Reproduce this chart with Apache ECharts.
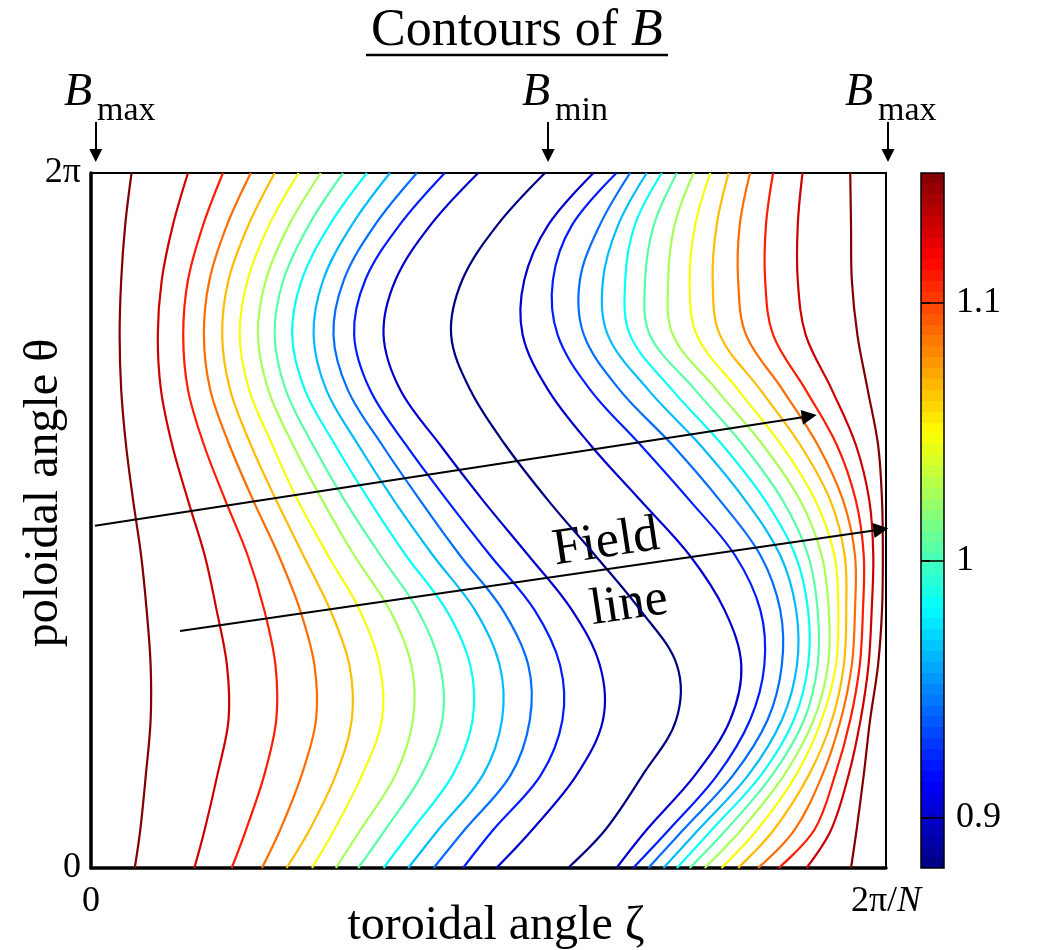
<!DOCTYPE html>
<html>
<head>
<meta charset="utf-8">
<script src="https://cdn.jsdelivr.net/npm/echarts@6/dist/echarts.min.js"></script>
<style>
  html, body { margin: 0; padding: 0; background: #fff; }
  #chart { width: 1041px; height: 950px; }
</style>
</head>
<body>
<div id="chart"></div>
<script>
// poloidal angle rows, theta / 2pi, top to bottom
const thetaRows = [1.000, 0.925, 0.846, 0.767, 0.688, 0.609, 0.529, 0.450, 0.371, 0.292, 0.213, 0.134, 0.055, 0.000];

// toroidal angle zeta / (2pi/N) where each contour crosses those rows, contours left to right
const contourZeta = [
  [0.051, 0.043, 0.038, 0.036, 0.038, 0.044, 0.053, 0.063, 0.070, 0.075, 0.075, 0.069, 0.062, 0.055],
  [0.122, 0.103, 0.089, 0.084, 0.088, 0.102, 0.122, 0.143, 0.158, 0.171, 0.173, 0.159, 0.143, 0.130],
  [0.166, 0.141, 0.122, 0.116, 0.122, 0.142, 0.169, 0.197, 0.218, 0.232, 0.233, 0.218, 0.195, 0.177],
  [0.201, 0.171, 0.149, 0.142, 0.150, 0.174, 0.204, 0.236, 0.263, 0.281, 0.283, 0.265, 0.238, 0.215],
  [0.231, 0.198, 0.173, 0.165, 0.175, 0.201, 0.233, 0.267, 0.301, 0.325, 0.328, 0.308, 0.275, 0.246],
  [0.261, 0.224, 0.197, 0.187, 0.199, 0.228, 0.260, 0.298, 0.338, 0.363, 0.366, 0.341, 0.306, 0.278],
  [0.289, 0.249, 0.220, 0.210, 0.223, 0.254, 0.291, 0.331, 0.376, 0.403, 0.405, 0.383, 0.339, 0.308],
  [0.317, 0.274, 0.242, 0.231, 0.245, 0.279, 0.319, 0.364, 0.411, 0.439, 0.442, 0.416, 0.370, 0.336],
  [0.347, 0.300, 0.265, 0.253, 0.269, 0.307, 0.350, 0.396, 0.447, 0.477, 0.480, 0.455, 0.404, 0.368],
  [0.376, 0.328, 0.292, 0.280, 0.296, 0.336, 0.381, 0.430, 0.483, 0.514, 0.517, 0.493, 0.437, 0.399],
  [0.410, 0.357, 0.318, 0.305, 0.323, 0.366, 0.414, 0.464, 0.518, 0.550, 0.552, 0.528, 0.470, 0.431],
  [0.445, 0.388, 0.345, 0.331, 0.351, 0.396, 0.448, 0.502, 0.558, 0.590, 0.593, 0.566, 0.506, 0.468],
  [0.487, 0.427, 0.383, 0.368, 0.389, 0.439, 0.493, 0.550, 0.605, 0.640, 0.644, 0.611, 0.555, 0.510],
  [0.571, 0.511, 0.467, 0.453, 0.477, 0.521, 0.575, 0.634, 0.691, 0.737, 0.736, 0.694, 0.647, 0.600],
  [0.632, 0.575, 0.545, 0.543, 0.575, 0.628, 0.691, 0.753, 0.797, 0.818, 0.804, 0.760, 0.699, 0.661],
  [0.661, 0.605, 0.581, 0.587, 0.628, 0.691, 0.753, 0.810, 0.842, 0.847, 0.829, 0.788, 0.727, 0.682],
  [0.678, 0.640, 0.615, 0.620, 0.665, 0.731, 0.791, 0.842, 0.867, 0.869, 0.851, 0.808, 0.745, 0.701],
  [0.699, 0.663, 0.644, 0.650, 0.701, 0.766, 0.823, 0.867, 0.887, 0.888, 0.869, 0.827, 0.764, 0.720],
  [0.718, 0.684, 0.672, 0.678, 0.731, 0.794, 0.848, 0.886, 0.902, 0.902, 0.884, 0.843, 0.781, 0.737],
  [0.737, 0.708, 0.697, 0.703, 0.760, 0.820, 0.870, 0.902, 0.914, 0.914, 0.897, 0.857, 0.799, 0.753],
  [0.758, 0.734, 0.726, 0.732, 0.787, 0.845, 0.892, 0.919, 0.928, 0.927, 0.909, 0.872, 0.818, 0.772],
  [0.779, 0.760, 0.753, 0.762, 0.814, 0.868, 0.911, 0.935, 0.940, 0.937, 0.919, 0.887, 0.838, 0.793],
  [0.802, 0.787, 0.782, 0.791, 0.842, 0.892, 0.930, 0.948, 0.950, 0.947, 0.932, 0.903, 0.859, 0.814],
  [0.829, 0.816, 0.814, 0.824, 0.870, 0.914, 0.946, 0.961, 0.961, 0.957, 0.943, 0.920, 0.885, 0.839],
  [0.858, 0.849, 0.848, 0.858, 0.899, 0.938, 0.962, 0.972, 0.971, 0.967, 0.955, 0.936, 0.910, 0.865],
  [0.895, 0.889, 0.889, 0.899, 0.932, 0.962, 0.979, 0.984, 0.982, 0.978, 0.968, 0.953, 0.931, 0.900],
  [0.955, 0.956, 0.957, 0.964, 0.977, 0.990, 0.995, 0.996, 0.995, 0.990, 0.980, 0.972, 0.963, 0.956]
];

// |B| on each contour, same order
const contourB = [1.151, 1.130, 1.109, 1.088, 1.067, 1.047, 1.026, 1.005, 0.984, 0.964, 0.943, 0.922, 0.901,
  0.881,
  0.901, 0.922, 0.943, 0.964, 0.984, 1.005, 1.026, 1.047, 1.067, 1.088, 1.109, 1.130, 1.151];

// colour bar
const colorbarMin = 0.8805;
const colorbarMax = 1.1505;
const colorbarTicks = [0.9, 1, 1.1];

// two field lines, [zeta, theta] at tail and head
const fieldLineTail = [[0.005, 0.4925], [0.112, 0.341]];
const fieldLineHead = [[0.9035, 0.650], [0.9936, 0.4872]];

// B_max / B_min markers above the box
const markerZeta = [0.006, 0.575, 1.0025];
const markerLabel = ['max', 'min', 'max'];
const markerTheta = [1.0734, 1.0252];

const FONT = '"Liberation Serif", "Times New Roman", serif';

// matlab style jet colormap
const jet = (f) => {
  f = Math.max(0, Math.min(1, f));
  const c = (x) => Math.round(255 * Math.max(0, Math.min(1, 1.5 - Math.abs(x))));
  return 'rgb(' + c(4 * f - 3) + ',' + c(4 * f - 2) + ',' + c(4 * f - 1) + ')';
};
const colorOf = (v) => jet((v - colorbarMin) / (colorbarMax - colorbarMin));

// 64 stepped bands for the bar
const barStops = [];
for (let i = 0; i < 64; i++) {
  const col = jet((i + 0.5) / 64);
  barStops.push({ offset: i / 64, color: col });
  barStops.push({ offset: (i + 1) / 64, color: col });
}

const chart = echarts.init(document.getElementById('chart'), null, { renderer: 'canvas' });

const series = [];

// contours: one smooth polyline per level crossing, placed through the axes
series.push({
  type: 'custom',
  coordinateSystem: 'cartesian2d',
  xAxisIndex: 0,
  yAxisIndex: 0,
  silent: true,
  data: contourZeta.map((row) => [row[0], thetaRows[0]]),
  renderItem: (params, api) => {
    const k = params.dataIndex;
    const pts = contourZeta[k].map((z, i) => api.coord([z, thetaRows[i]]));
    return {
      type: 'polyline',
      shape: { points: pts, smooth: 0.35 },
      style: { stroke: colorOf(contourB[k]), fill: 'none', lineWidth: 2.2 },
      silent: true
    };
  },
  z: 2
});

// field lines with arrow heads
series.push({
  type: 'lines',
  coordinateSystem: 'cartesian2d',
  xAxisIndex: 0,
  yAxisIndex: 0,
  clip: false,
  silent: true,
  symbol: ['none', 'triangle'],
  symbolSize: 15,
  lineStyle: { color: '#000', width: 2, opacity: 1 },
  data: fieldLineTail.map((t, i) => ({ coords: [t, fieldLineHead[i]] })),
  z: 5
});

// short arrows pointing at B_max / B_min
series.push({
  type: 'lines',
  coordinateSystem: 'cartesian2d',
  xAxisIndex: 0,
  yAxisIndex: 0,
  clip: false,
  silent: true,
  symbol: ['none', 'triangle'],
  symbolSize: 13,
  lineStyle: { color: '#000', width: 2, opacity: 1 },
  data: markerZeta.map((z) => ({ coords: [[z, markerTheta[0]], [z, markerTheta[1]]] })),
  z: 5
});

// tick lines across the colour bar
series.push({
  type: 'line',
  xAxisIndex: 1,
  yAxisIndex: 1,
  data: [[0, colorbarMin]],
  symbol: 'none',
  silent: true,
  lineStyle: { opacity: 0 },
  markLine: {
    silent: true,
    symbol: 'none',
    label: { show: false },
    lineStyle: { color: '#000', width: 1.5, type: 'solid' },
    data: colorbarTicks.map((v) => ({ yAxis: v }))
  }
});

const graphics = [
  {
    type: 'text',
    x: 517, y: 31,
    style: {
      text: 'Contours of {i|B}',
      font: '52px ' + FONT,
      fill: '#000',
      align: 'center', textAlign: 'center',
      verticalAlign: 'middle', textVerticalAlign: 'middle',
      rich: { i: { fontStyle: 'italic', fontSize: 52, fontFamily: FONT } }
    }
  },
  {
    type: 'line',
    shape: { x1: 366, y1: 55, x2: 668, y2: 55 },
    style: { stroke: '#000', lineWidth: 2.5 }
  },
  {
    type: 'text',
    x: 496, y: 926,
    style: {
      text: 'toroidal angle ζ',
      font: '48px ' + FONT,
      fill: '#000',
      align: 'center', textAlign: 'center',
      verticalAlign: 'middle', textVerticalAlign: 'middle'
    }
  },
  {
    type: 'text',
    x: 44, y: 493,
    rotation: Math.PI / 2,
    style: {
      text: 'poloidal angle θ',
      font: '48px ' + FONT,
      fill: '#000',
      align: 'center', textAlign: 'center',
      verticalAlign: 'middle', textVerticalAlign: 'middle'
    }
  },
  {
    type: 'text',
    x: 606, y: 543,
    rotation: 0.15,
    style: {
      text: 'Field',
      font: '52px ' + FONT,
      fill: '#000',
      align: 'center', textAlign: 'center',
      verticalAlign: 'middle', textVerticalAlign: 'middle'
    }
  },
  {
    type: 'text',
    x: 629, y: 605,
    rotation: 0.15,
    style: {
      text: 'line',
      font: '52px ' + FONT,
      fill: '#000',
      align: 'center', textAlign: 'center',
      verticalAlign: 'middle', textVerticalAlign: 'middle'
    }
  }
];

// B with subscript above each marker arrow
const bLeft = [64, 522, 845];
markerLabel.forEach((sub, i) => {
  graphics.push({
    type: 'text',
    x: bLeft[i], y: 93,
    style: {
      text: 'B',
      font: 'italic 46px ' + FONT,
      fill: '#000',
      align: 'left', textAlign: 'left',
      verticalAlign: 'middle', textVerticalAlign: 'middle'
    }
  });
  graphics.push({
    type: 'text',
    x: bLeft[i] + 33, y: 111,
    style: {
      text: sub,
      font: '34px ' + FONT,
      fill: '#000',
      align: 'left', textAlign: 'left',
      verticalAlign: 'middle', textVerticalAlign: 'middle'
    }
  });
});

const option = {
  animation: false,
  backgroundColor: '#fff',
  grid: [
    {
      left: 91, top: 173, width: 795, height: 695,
      show: true, borderColor: '#000', borderWidth: 2, backgroundColor: '#fff'
    },
    {
      left: 921, top: 173, width: 23, height: 695,
      show: true, borderColor: '#000', borderWidth: 1.5,
      backgroundColor: new echarts.graphic.LinearGradient(0, 1, 0, 0, barStops)
    }
  ],
  xAxis: [
    {
      type: 'value', gridIndex: 0, min: 0, max: 1, interval: 1,
      axisLine: { show: true, onZero: false, lineStyle: { color: '#000', width: 3.5 } },
      axisTick: { show: false },
      splitLine: { show: false },
      axisLabel: {
        show: true, margin: 16, color: '#000', fontSize: 36, fontFamily: FONT,
        formatter: (v) => (v === 1 ? '2π/{n|N}' : '0'),
        rich: { n: { fontStyle: 'italic', fontSize: 36, fontFamily: FONT, color: '#000' } }
      }
    },
    { type: 'value', gridIndex: 1, min: 0, max: 1, show: false }
  ],
  yAxis: [
    {
      type: 'value', gridIndex: 0, min: 0, max: 1, interval: 1,
      axisLine: { show: true, onZero: false, lineStyle: { color: '#000', width: 3.5 } },
      axisTick: { show: false },
      splitLine: { show: false },
      axisLabel: {
        show: true, margin: 10, color: '#000', fontSize: 36, fontFamily: FONT,
        formatter: (v) => (v === 1 ? '2π' : '0')
      }
    },
    {
      type: 'value', gridIndex: 1, min: colorbarMin, max: colorbarMax, position: 'right',
      axisLine: { show: false },
      axisTick: {
        show: true, length: 9, customValues: colorbarTicks,
        lineStyle: { color: '#000', width: 1.5 }
      },
      splitLine: { show: false },
      axisLabel: {
        show: true, margin: 12, color: '#000', fontSize: 36, fontFamily: FONT,
        customValues: colorbarTicks,
        formatter: (v) => String(Math.round(v * 10) / 10)
      }
    }
  ],
  graphic: graphics,
  series: series
};

chart.setOption(option);
</script>
</body>
</html>
